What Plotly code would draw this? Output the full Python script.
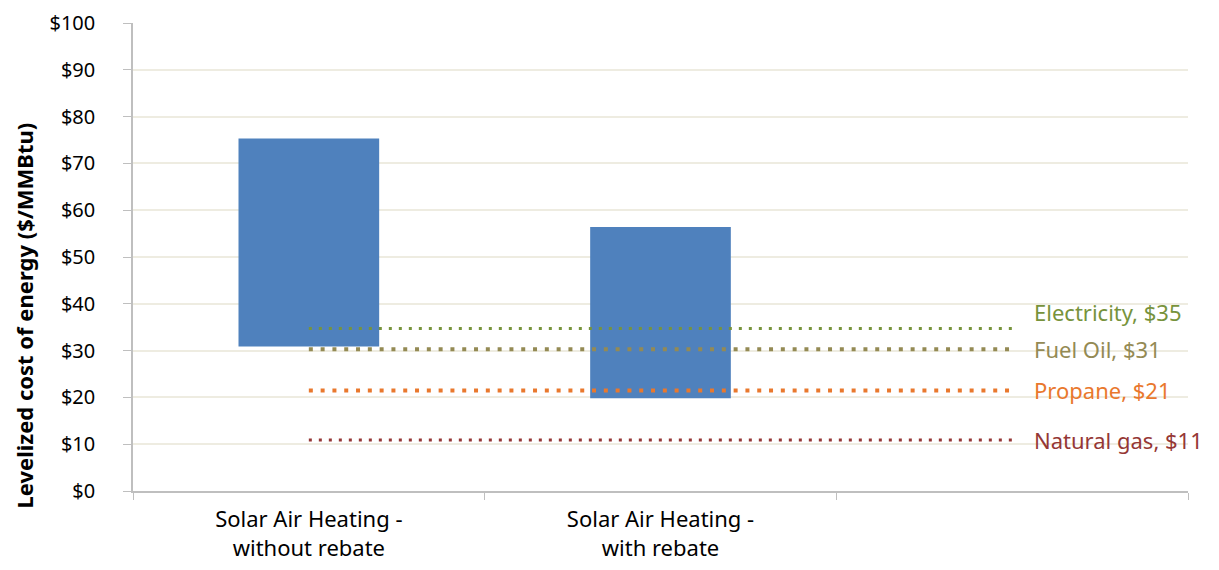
import plotly.graph_objects as go

# categories (third slot is empty, used only as the end of the fuel lines)
categories = ["Solar Air Heating -<br>without rebate", "Solar Air Heating -<br>with rebate", " "]
bar_low = [30.9, 19.8]
bar_high = [75.3, 56.4]

fuel_names = ["Electricity", "Fuel Oil", "Propane", "Natural gas"]
fuel_values = [34.7, 30.3, 21.5, 10.9]
fuel_labels = ["Electricity, $35", "Fuel Oil, $31", "Propane, $21", "Natural gas, $11"]
fuel_colors = ["#77933C", "#948A54", "#E9782D", "#953735"]
fuel_widths = [3, 4, 4, 3]
fuel_dash = ["3px,7px", "4px,7.8px", "4px,7.8px", "3px,7px"]
label_shift = [17, 0, 0, 0]

y_ticks = list(range(0, 101, 10))
y_ticklabels = ["${}".format(v) for v in y_ticks]

FONT = "Noto Sans, sans-serif"
FS = 22

fig = go.Figure()

fig.add_trace(go.Bar(
    x=categories[:2],
    y=[h - l for h, l in zip(bar_high, bar_low)],
    base=bar_low,
    width=0.4,
    marker=dict(color="#4F81BD", line=dict(width=0)),
    showlegend=False,
    hoverinfo="skip",
))

for name, val, col, w, d in zip(fuel_names, fuel_values, fuel_colors, fuel_widths, fuel_dash):
    fig.add_trace(go.Scatter(
        x=categories,
        y=[val] * len(categories),
        mode="lines",
        name=name,
        line=dict(color=col, width=w, dash=d),
        showlegend=False,
    ))

annotations = []
for lab, val, col, ys in zip(fuel_labels, fuel_values, fuel_colors, label_shift):
    annotations.append(dict(
        x=categories[2], y=val, xref="x", yref="y",
        text=lab, showarrow=False, xanchor="left", xshift=20, yshift=ys,
        font=dict(family=FONT, size=FS, color=col),
    ))

# y axis title as a rotated annotation (sits lower than the axis middle)
annotations.append(dict(
    x=0, y=0.375, xref="paper", yref="paper",
    text="<b>Levelized cost of energy ($/MMBtu)</b>", textangle=-90,
    showarrow=False, xanchor="center", yanchor="middle", xshift=-110,
    font=dict(family=FONT, size=22, color="black"),
))

# page body adds an 8px offset, margins compensate for it
fig.update_layout(
    width=1219, height=570,
    margin=dict(l=125, r=39, t=15, b=87),
    plot_bgcolor="white", paper_bgcolor="white",
    font=dict(family=FONT, size=FS, color="black"),
    annotations=annotations,
    xaxis=dict(
        categoryorder="array", categoryarray=categories,
        range=[-0.5, 2.5], automargin=False,
        showgrid=False, showline=True, linecolor="#BFBFBF", linewidth=1.5,
        ticks="outside", tickson="boundaries", ticklen=7, tickcolor="#BFBFBF",
        ticklabelstandoff=8,
        tickfont=dict(family=FONT, size=FS, color="black"),
    ),
    yaxis=dict(
        range=[0, 100], tickvals=y_ticks, ticktext=y_ticklabels,
        automargin=False, ticklabeloverflow="allow",
        showgrid=True, gridcolor="#EEECE1", gridwidth=2,
        showline=True, linecolor="#BFBFBF", linewidth=1.5,
        ticks="outside", ticklen=8, tickcolor="#BFBFBF",
        ticklabelstandoff=24,
        zeroline=False,
        tickfont=dict(family=FONT, size=20, color="black"),
    ),
)

fig.write_html("out.html")
